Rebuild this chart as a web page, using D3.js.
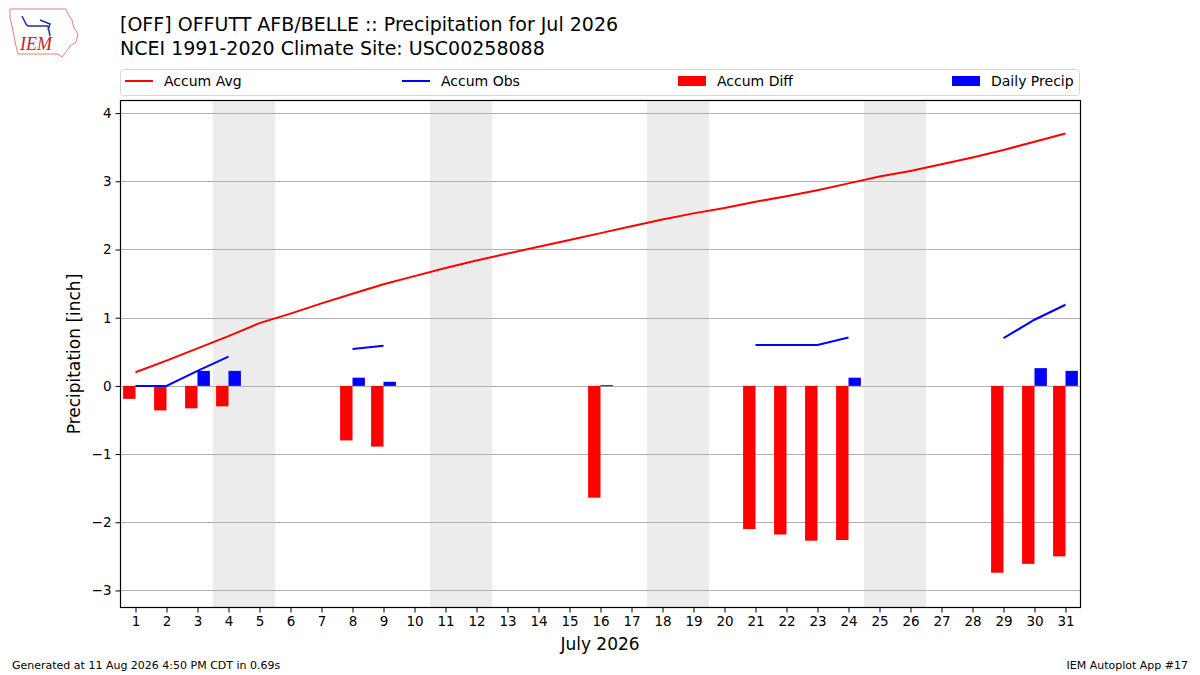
<!DOCTYPE html>
<html>
<head>
<meta charset="utf-8">
<script src="https://cdn.jsdelivr.net/npm/d3@7"></script>
<style>
  body { margin: 0; background: #fff; }
  svg { font-family: "DejaVu Sans", sans-serif; }
</style>
</head>
<body>
<svg id="chart" width="1200" height="675"></svg>
<script>
// days of July 2026
var days = d3.range(1, 32);
// accumulated climatology (inch)
var accumAvg = [0.20, 0.37, 0.55, 0.73, 0.92, 1.06, 1.21, 1.35, 1.49, 1.61,
                1.73, 1.84, 1.94, 2.04, 2.14, 2.24, 2.34, 2.44, 2.53, 2.61,
                2.70, 2.78, 2.87, 2.97, 3.07, 3.15, 3.25, 3.35, 3.46, 3.58, 3.70];
// accumulated observed, null = missing
var accumObs = [0.00, 0.00, 0.22, 0.43, null, null, null, 0.54, 0.59, null,
                null, null, null, null, null, 0.60, null, null, null, null,
                0.60, 0.60, 0.60, 0.71, null, null, null, null, 0.70, 0.97, 1.19];
// accumulated departure
var accumDiff = [-0.19, -0.36, -0.33, -0.30, null, null, null, -0.80, -0.89, null,
                 null, null, null, null, null, -1.64, null, null, null, null,
                 -2.10, -2.18, -2.27, -2.26, null, null, null, null, -2.74, -2.61, -2.50];
// daily precip
var dailyPrecip = [0.00, 0.00, 0.22, 0.22, null, null, null, 0.12, 0.06, null,
                   null, null, null, null, null, 0.01, null, null, null, null,
                   0.00, 0.00, 0.00, 0.12, null, null, null, null, 0.00, 0.26, 0.22];
var weekendStarts = [4, 11, 18, 25];
var yTicks = [-3, -2, -1, 0, 1, 2, 3, 4];

var svg = d3.select("#chart");
var L = 120.5, R = 1080.5, T = 100.5, B = 607.5;

var x = d3.scaleLinear().domain([0.516, 31.484]).range([L, R]);
var y = d3.scaleLinear().domain([-3.25, 4.185]).range([B, T]);

// weekend shading
svg.append("g").selectAll("rect").data(weekendStarts).join("rect")
    .attr("x", function(d) { return x(d - 0.5); })
    .attr("width", function(d) { return x(d + 1.5) - x(d - 0.5); })
    .attr("y", T).attr("height", B - T)
    .attr("fill", "#ececec");

// grid
svg.append("g").selectAll("line").data(yTicks).join("line")
    .attr("x1", L).attr("x2", R)
    .attr("y1", function(d) { return Math.round(y(d)) + 0.5; })
    .attr("y2", function(d) { return Math.round(y(d)) + 0.5; })
    .attr("stroke", "#b0b0b0").attr("stroke-width", 1);

var rows = days.map(function(d, i) {
    return {day: d, avg: accumAvg[i], obs: accumObs[i], diff: accumDiff[i], daily: dailyPrecip[i]};
});

// accum diff bars (left of day)
svg.append("g").selectAll("rect").data(rows.filter(function(r) { return r.diff != null; })).join("rect")
    .attr("x", function(r) { return x(r.day - 0.4); })
    .attr("width", function(r) { return x(r.day) - x(r.day - 0.4); })
    .attr("y", function(r) { return y(Math.max(0, r.diff)); })
    .attr("height", function(r) { return Math.abs(y(r.diff) - y(0)); })
    .attr("fill", "red");

// daily precip bars (right of day)
svg.append("g").selectAll("rect").data(rows.filter(function(r) { return r.daily != null; })).join("rect")
    .attr("x", function(r) { return x(r.day); })
    .attr("width", function(r) { return x(r.day + 0.4) - x(r.day); })
    .attr("y", function(r) { return y(r.daily); })
    .attr("height", function(r) { return Math.max(y(0) - y(r.daily), r.daily > 0 ? 1 : 0); })
    .attr("fill", "blue");

// lines
var avgLine = d3.line().x(function(r) { return x(r.day); }).y(function(r) { return y(r.avg); });
svg.append("path").datum(rows).attr("d", avgLine)
    .attr("fill", "none").attr("stroke", "red").attr("stroke-width", 2);

var obsLine = d3.line()
    .defined(function(r) { return r.obs != null; })
    .x(function(r) { return x(r.day); }).y(function(r) { return y(r.obs); });
svg.append("path").datum(rows).attr("d", obsLine)
    .attr("fill", "none").attr("stroke", "blue").attr("stroke-width", 2);

// axes
var xAxis = d3.axisBottom(x).tickValues(days).tickFormat(d3.format("d")).tickSize(5).tickPadding(4);
var gx = svg.append("g").attr("transform", "translate(0," + B + ")").call(xAxis);
var yAxis = d3.axisLeft(y).tickValues(yTicks)
    .tickFormat(function(d) { return d < 0 ? "\u2212" + Math.abs(d) : d; })
    .tickSize(5).tickPadding(4);
var gy = svg.append("g").attr("transform", "translate(" + L + ",0)").call(yAxis);
[gx, gy].forEach(function(g) {
    g.select(".domain").remove();
    g.selectAll("text").attr("font-size", 13.5).attr("fill", "#000")
        .attr("font-family", "DejaVu Sans, sans-serif");
    g.selectAll("line").attr("stroke", "#000");
});

// frame
svg.append("rect").attr("x", L).attr("y", T).attr("width", R - L).attr("height", B - T)
    .attr("fill", "none").attr("stroke", "#000").attr("stroke-width", 1.2);

// axis labels
svg.append("text").attr("x", 600).attr("y", 650).attr("text-anchor", "middle")
    .attr("font-size", 17).text("July 2026");
svg.append("text").attr("transform", "translate(80,354) rotate(-90)")
    .attr("text-anchor", "middle").attr("font-size", 17).text("Precipitation [inch]");

// titles
svg.append("text").attr("x", 120).attr("y", 31).attr("font-size", 19)
    .text("[OFF] OFFUTT AFB/BELLE :: Precipitation for Jul 2026");
svg.append("text").attr("x", 120).attr("y", 55).attr("font-size", 19)
    .text("NCEI 1991-2020 Climate Site: USC00258088");

// legend
var lg = svg.append("g");
lg.append("rect").attr("x", 120.5).attr("y", 69.5).attr("width", 959).attr("height", 26)
    .attr("rx", 3).attr("fill", "#fff").attr("stroke", "#d6d6d6");
var legendItems = [
    {label: "Accum Avg", color: "red", type: "line", x: 125},
    {label: "Accum Obs", color: "blue", type: "line", x: 402},
    {label: "Accum Diff", color: "red", type: "patch", x: 678},
    {label: "Daily Precip", color: "blue", type: "patch", x: 952}
];
legendItems.forEach(function(it) {
    if (it.type === "line") {
        lg.append("line").attr("x1", it.x).attr("x2", it.x + 28).attr("y1", 81).attr("y2", 81)
            .attr("stroke", it.color).attr("stroke-width", 2);
    } else {
        lg.append("rect").attr("x", it.x).attr("y", 76).attr("width", 28).attr("height", 10)
            .attr("fill", it.color);
    }
    lg.append("text").attr("x", it.x + 39).attr("y", 86).attr("font-size", 14).text(it.label);
});

// footer
svg.append("text").attr("x", 12).attr("y", 669).attr("font-size", 11)
    .text("Generated at 11 Aug 2026 4:50 PM CDT in 0.69s");
svg.append("text").attr("x", 1188).attr("y", 669).attr("font-size", 11).attr("text-anchor", "end")
    .text("IEM Autoplot App #17");

// logo: rough state outline with IEM text
var logo = svg.append("g");
logo.append("path")
    .attr("d", "M10,9 L66,9 L68,14 L72,20 L74,28 L78,34 L76,42 L70,46 L66,52 L62,57 L58,54 L18,54 L16,46 L14,36 L12,26 L10,18 Z")
    .attr("fill", "#fff").attr("stroke", "#e08080").attr("stroke-width", 1);
logo.append("path").attr("d", "M22,16 L26,24 L28,26 L48,26 M40,20 L50,24 L48,30 M48,26 L50,36")
    .attr("fill", "none").attr("stroke", "#2030a0").attr("stroke-width", 1.5);
logo.append("text").attr("x", 20).attr("y", 50).attr("font-family", "Liberation Serif, serif")
    .attr("font-style", "italic").attr("font-size", 18).attr("fill", "#d02020").text("IEM");
</script>
</body>
</html>
